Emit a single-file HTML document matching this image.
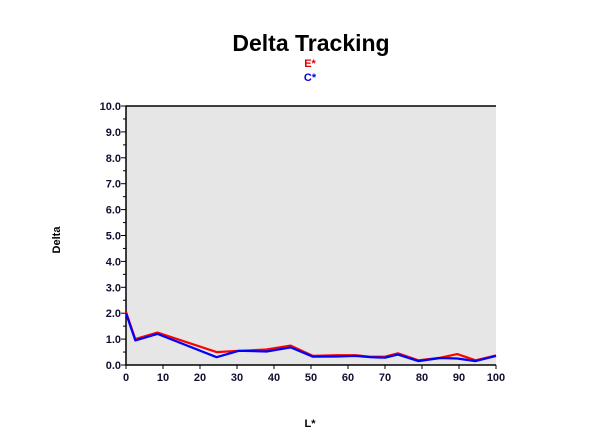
<!DOCTYPE html>
<html><head><meta charset="utf-8"><style>
body{margin:0;background:#fff;width:600px;height:439px;overflow:hidden;font-family:"Liberation Sans",Arial,sans-serif}
svg{display:block}
</style></head><body>
<svg id="chart" width="600" height="439">
<text x="311" y="51" text-anchor="middle" font-size="23" font-weight="bold" fill="#000">Delta Tracking</text>
<text x="310" y="67" text-anchor="middle" font-size="11" font-weight="bold" fill="#e00000">E*</text>
<text x="310" y="81" text-anchor="middle" font-size="11" font-weight="bold" fill="#0000e0">C*</text>
<text transform="translate(60,240) rotate(-90)" text-anchor="middle" font-size="11" font-weight="bold">Delta</text>
<text x="310" y="427" text-anchor="middle" font-size="11" font-weight="bold">L*</text>
<rect x="126" y="106" width="370" height="259" fill="#e6e6e6"/>
<g id="axes"></g>
<g id="series"></g>
</svg>
<script>
const xValues=[0,2.5,8.5,24.5,30.5,38,44.5,50.5,57,62,66,70,73.5,79,85,89.5,94.5,100];
const eValues=[2.05,1.0,1.25,0.5,0.55,0.6,0.75,0.35,0.38,0.38,0.32,0.32,0.45,0.18,0.28,0.42,0.18,0.37];
const cValues=[2.0,0.95,1.2,0.3,0.55,0.52,0.68,0.32,0.33,0.35,0.3,0.28,0.4,0.15,0.27,0.25,0.15,0.35];
const xTicks=[0,10,20,30,40,50,60,70,80,90,100];
const yTicks=[0,1,2,3,4,5,6,7,8,9,10];
const NS="http://www.w3.org/2000/svg";
const X0=126,X1=496,Y0=365,Y1=106;
const xs=v=>X0+(v/100)*(X1-X0);
const ys=v=>Y0-(v/10)*(Y0-Y1);
const axes=document.getElementById('axes');
function mk(tag,attrs,parent){const e=document.createElementNS(NS,tag);for(const k in attrs)e.setAttribute(k,attrs[k]);parent.appendChild(e);return e;}
const al=mk('path',{d:`M${X0},${Y1}H${X1}M${X0},${Y1}V${Y0}H${X1}`,stroke:'#000','stroke-width':1.5,fill:'none'},axes);


yTicks.forEach(v=>{
  const y=ys(v);
  const t=mk('line',{x1:X0-5,x2:X0,y1:y,y2:y,stroke:'#000'},axes);
  
  
  if(v<10){const m=mk('line',{x1:X0-3,x2:X0,y1:ys(v+0.5),y2:ys(v+0.5),stroke:'#000'},axes);
  
  }
  const l=mk('text',{x:X0-5,y:y+4,'text-anchor':'end','font-size':11,'font-weight':'bold',fill:'#101030'},axes);
  l.textContent=v.toFixed(1);
  
  
});
xTicks.forEach(v=>{
  const x=xs(v);
  const t=mk('line',{x1:x,x2:x,y1:Y0,y2:Y0+4,stroke:'#000'},axes);
  
  
  const l=mk('text',{x:x,y:Y0+16,'text-anchor':'middle','font-size':11,'font-weight':'bold',fill:'#101030'},axes);
  l.textContent=v;
  
  
});
const series=document.getElementById('series');
function line(vals,color,name){
  const d=vals.map((v,i)=>(i?'L':'M')+xs(xValues[i]).toFixed(1)+','+ys(v).toFixed(1)).join('');
  const p=mk('path',{d:d,stroke:color,'stroke-width':2.2,fill:'none','stroke-linejoin':'round'},series);
  
  
}
line(eValues,'#ff0000','series-e-line');
line(cValues,'#0000ff','series-c-line');
</script>
</body></html>
